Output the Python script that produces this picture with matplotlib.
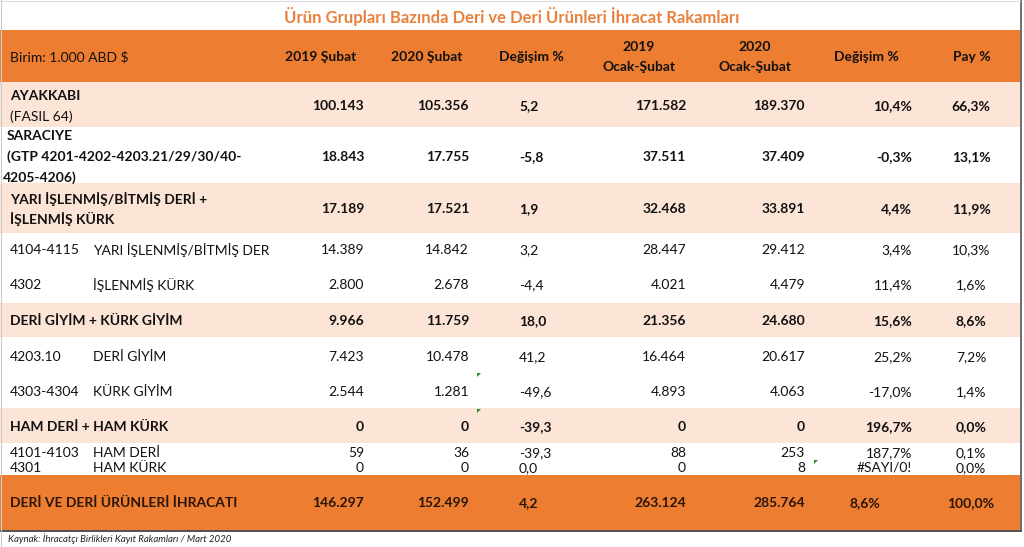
import matplotlib
matplotlib.use("Agg")
import matplotlib.pyplot as plt
from matplotlib.patches import Rectangle, Polygon

plt.rcParams['font.family'] = ['Lato', 'DejaVu Sans']

# ---------------- data ----------------
title = "Ürün Grupları Bazında Deri ve Deri Ürünleri İhracat Rakamları"
unit_label = "Birim: 1.000 ABD $"
col_headers = ["2019 Şubat", "2020 Şubat", "Değişim %", "2019\nOcak-Şubat",
               "2020\nOcak-Şubat", "Değişim %", "Pay %"]
row_codes = ["", "", "", "4104-4115", "4302", "", "4203.10", "4303-4304", "",
             "4101-4103", "4301", ""]
row_labels = ["AYAKKABI\n(FASIL 64)",
              "SARACIYE\n(GTP 4201-4202-4203.21/29/30/40-\n4205-4206)",
              "YARI İŞLENMİŞ/BİTMİŞ DERİ +\nİŞLENMİŞ KÜRK",
              "YARI İŞLENMİŞ/BİTMİŞ DERİ",
              "İŞLENMİŞ KÜRK",
              "DERİ GİYİM + KÜRK GİYİM",
              "DERİ GİYİM",
              "KÜRK GİYİM",
              "HAM DERİ + HAM KÜRK",
              "HAM DERİ",
              "HAM KÜRK",
              "DERİ VE DERİ ÜRÜNLERİ İHRACATI"]
row_kind = ["group", "group", "group", "sub", "sub", "group", "sub", "sub",
            "group", "sub", "sub", "total"]
feb_2019 = [100143, 18843, 17189, 14389, 2800, 9966, 7423, 2544, 0, 59, 0, 146297]
feb_2020 = [105356, 17755, 17521, 14842, 2678, 11759, 10478, 1281, 0, 36, 0, 152499]
chg_feb = [5.2, -5.8, 1.9, 3.2, -4.4, 18.0, 41.2, -49.6, -39.3, -39.3, 0.0, 4.2]
jan_feb_2019 = [171582, 37511, 32468, 28447, 4021, 21356, 16464, 4893, 0, 88, 0, 263124]
jan_feb_2020 = [189370, 37409, 33891, 29412, 4479, 24680, 20617, 4063, 0, 253, 8, 285764]
chg_jan_feb = [10.4, -0.3, 4.4, 3.4, 11.4, 15.6, 25.2, -17.0, 196.7, 187.7, None, 8.6]
share = [66.3, 13.1, 11.9, 10.3, 1.6, 8.6, 7.2, 1.4, 0.0, 0.1, 0.0, 100.0]
source = "Kaynak: İhracatçı Birlikleri Kayıt Rakamları / Mart 2020"

# ---------------- layout ----------------
ORANGE = "#ED7D31"
PEACH = "#FCE4D6"
TOTAL_TXT = "#2a1508"
W, H = 1024, 547
row_y = [106, 157, 209, 250, 285, 321, 357, 392, 427, 453, 468, 503]
bands = [(82, 127, PEACH), (183, 233, PEACH), (303, 337, PEACH),
         (408, 443, PEACH), (475, 530, ORANGE)]
header_band = (30, 82)
line_gap = 20.5
FS = 10


def fmt_int(v):
    return f"{v:,}".replace(",", ".")


def fmt_dec(v, pct=False):
    if v is None:
        return "#SAYI/0!"
    s = f"{v:.1f}".replace(".", ",")
    return s + ("%" if pct else "")


fig = plt.figure(figsize=(W / 100, H / 100), dpi=100)
ax = fig.add_axes([0, 0, 1, 1])
ax.set_xlim(0, W)
ax.set_ylim(H, 0)
ax.axis("off")

# backgrounds
ax.add_patch(Rectangle((0, header_band[0]), 1020, header_band[1] - header_band[0],
                       color=ORANGE, lw=0))
for y0, y1, c in bands:
    ax.add_patch(Rectangle((0, y0), 1020, y1 - y0, color=c, lw=0))
ax.plot([1020.5, 1020.5], [0, 530], color="#555555", lw=1.2)
ax.plot([0, 1020.5], [530.5, 530.5], color="#333333", lw=1.2)
ax.plot([0.5, 0.5], [0, 547], color="#cccccc", lw=0.8)
ax.plot([0, 1020], [0.5, 0.5], color="#dddddd", lw=0.8)

# title
ax.text(512, 16, title, ha="center", va="center", fontsize=12, color="#E8813D",
        fontweight="bold")

# header
ax.text(10, 57, unit_label, ha="left", va="center", fontsize=FS, color="#111111")
hdr_x = [321, 427, 531, 639, 755, 866, 972]
for x, h in zip(hdr_x, col_headers):
    lines = h.split("\n")
    n = len(lines)
    for i, ln in enumerate(lines):
        y = 57 + (i - (n - 1) / 2) * 20
        ax.text(x, y, ln, ha="center", va="center", fontsize=FS,
                fontweight="bold", color="#111111")

# rows
clip = Rectangle((0, 0), 269, H, transform=ax.transData)
for i, y in enumerate(row_y):
    kind = row_kind[i]
    bold = kind in ("group", "total")
    fw = "bold" if bold else "normal"
    col = TOTAL_TXT if kind == "total" else "#111111"
    # labels
    if kind == "sub":
        ax.text(10, y, row_codes[i], ha="left", va="center", fontsize=FS, color=col)
        t = ax.text(93, y, row_labels[i], ha="left", va="center", fontsize=FS,
                    color=col, clip_on=True)
        t.set_clip_path(clip)
    else:
        lines = row_labels[i].split("\n")
        n = len(lines)
        for j, ln in enumerate(lines):
            ly = y + (j - (n - 1) / 2) * line_gap
            lw = fw
            if i == 0 and j > 0:
                lw = "normal"
            lx = 10
            if i == 1:
                lx = 3 if j == 2 else 7
            ax.text(lx, ly, ln, ha="left", va="center", fontsize=FS,
                    fontweight=lw, color=col)
    # values
    ax.text(364, y, fmt_int(feb_2019[i]), ha="right", va="center", fontsize=FS,
            fontweight=fw, color=col)
    ax.text(469, y, fmt_int(feb_2020[i]), ha="right", va="center", fontsize=FS,
            fontweight=fw, color=col)
    ax.text(519, y, fmt_dec(chg_feb[i]), ha="left", va="center", fontsize=FS,
            fontweight=fw, color=col)
    ax.text(686, y, fmt_int(jan_feb_2019[i]), ha="right", va="center", fontsize=FS,
            fontweight=fw, color=col)
    ax.text(805, y, fmt_int(jan_feb_2020[i]), ha="right", va="center", fontsize=FS,
            fontweight=fw, color=col)
    if kind == "total":
        ax.text(850, y, fmt_dec(chg_jan_feb[i], True), ha="left", va="center",
                fontsize=FS, fontweight=fw, color=col)
    else:
        ax.text(912, y, fmt_dec(chg_jan_feb[i], True), ha="right", va="center",
                fontsize=FS, fontweight=fw, color=col)
    ax.text(971, y, fmt_dec(share[i], True), ha="center", va="center",
            fontsize=FS, fontweight=fw, color=col)

# excel error-indicator triangles
for (tx, ty) in [(477, 373), (477, 409), (814, 460)]:
    ax.add_patch(Polygon([(tx, ty), (tx + 4, ty), (tx, ty + 4)], closed=True,
                         color="#2e8b2e", lw=0))

# source
ax.text(8, 539, source, ha="left", va="center", fontsize=6.9, style="italic",
        color="#222222")

fig.savefig("out.png", dpi=100)
